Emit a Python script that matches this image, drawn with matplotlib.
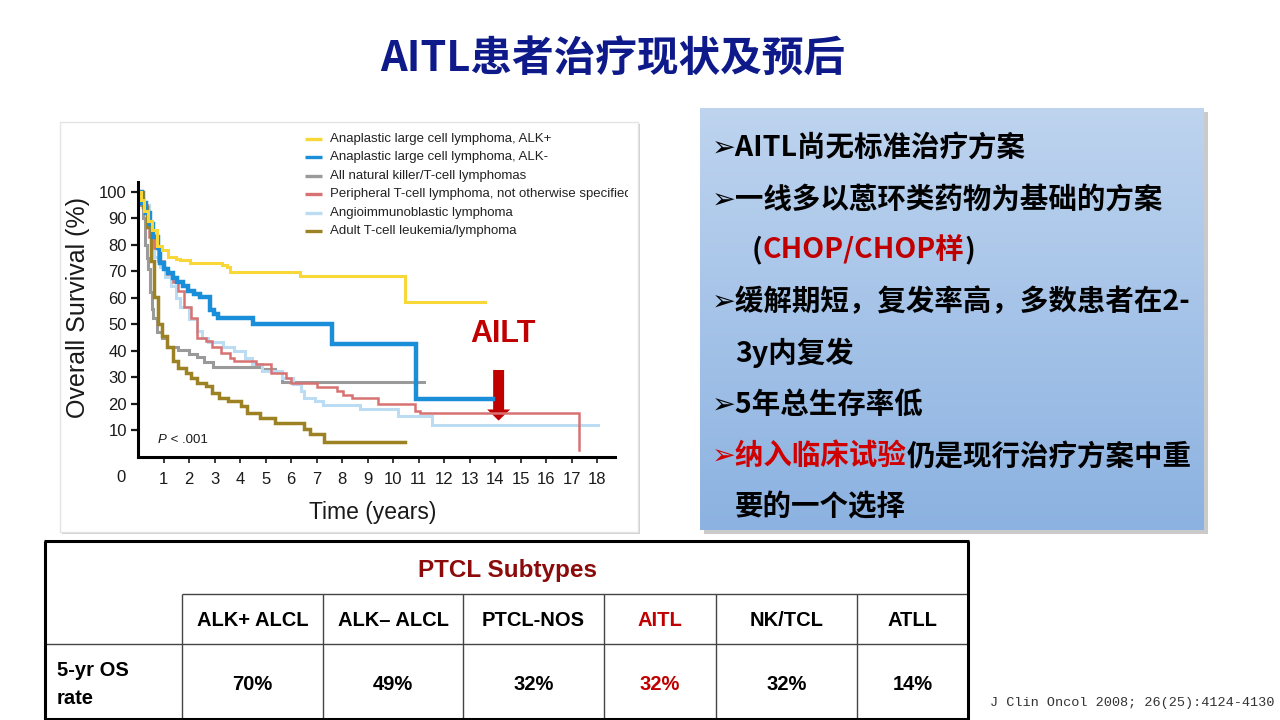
import numpy as np
import matplotlib.pyplot as plt
from matplotlib.patches import Rectangle, FancyArrow
from matplotlib.colors import LinearSegmentedColormap
from matplotlib.transforms import Bbox

plt.rcParams['font.family'] = ['Liberation Sans', 'DejaVu Sans']
cjk = ['Noto Sans CJK SC', 'DejaVu Sans']

# Kaplan-Meier curves: (years, % surviving), step after each time
alk_pos_t = [0, 0.1, 0.25, 0.4, 0.53, 0.73, 0.92, 1.19, 1.5, 1.64, 2.03, 3.3, 3.47, 3.6, 6.35, 10.47, 13.6]
alk_pos_s = [100, 97, 93, 89, 85.6, 79.5, 78, 75.5, 74.7, 74.3, 73.2, 72.6, 71.8, 69.9, 68.2, 58.6, 58.6]

alk_neg_t = [0, 0.15, 0.3, 0.45, 0.6, 0.79, 0.86, 1.0, 1.19, 1.35, 1.51, 1.75, 1.97, 2.2, 2.43, 2.82, 2.96, 3.15, 4.52, 7.6, 10.9, 13.9]
alk_neg_s = [100, 96, 92, 88, 83, 78.7, 73, 71, 69.3, 67.5, 66.1, 64.5, 62.5, 61.5, 60.3, 55.6, 53.9, 52.4, 50.2, 42.8, 22, 22]

nk_t = [0, 0.1, 0.2, 0.27, 0.35, 0.4, 0.47, 0.55, 0.6, 0.73, 0.92, 1.12, 1.58, 2.0, 2.3, 2.6, 2.95, 4.84, 5.35, 5.64, 11.23]
nk_s = [100, 95, 90, 80, 75, 71, 62.3, 56, 52.3, 47.2, 44.7, 41.6, 40.3, 39, 37.8, 36, 34, 33.3, 32.6, 28.2, 28.2]

ptcl_t = [0, 0.2, 0.35, 0.42, 0.64, 0.78, 1.0, 1.15, 1.35, 1.58, 1.8, 2.09, 2.3, 2.67, 2.89, 3.25, 3.61,
          3.76, 4.63, 5.2, 5.79, 6.0, 7.0, 7.82, 8.05, 8.38, 9.42, 10.86, 11.06, 17.3, 17.31]
ptcl_s = [100, 95, 90.5, 83, 79, 74, 71, 69, 66, 62.8, 56.4, 52.6, 45, 43.8, 41.3, 39.4, 37.5,
          36.2, 35, 31.8, 29.9, 28, 26.3, 24.8, 23.4, 22.1, 20, 17.5, 16.4, 2.5, 2.5]

aitl_t = [0, 0.2, 0.42, 0.55, 0.64, 0.86, 1.05, 1.29, 1.5, 1.65, 2.0, 2.3, 2.5, 2.74, 3.32, 3.76, 4.19,
          4.48, 4.84, 5.64, 6.08, 6.37, 6.51, 6.95, 7.24, 8.69, 10.21, 11.52, 18.05]
aitl_s = [100, 95, 88, 84, 75.4, 71.6, 68, 64.6, 60, 56.4, 52, 47.6, 45, 43.2, 41.3, 40, 37.5,
          35, 32.4, 29.9, 27.4, 25, 22.3, 21.1, 19.5, 17.9, 15.4, 12.2, 12.2]

atll_t = [0, 0.2, 0.35, 0.49, 0.64, 0.78, 0.93, 1.15, 1.36, 1.58, 1.87, 2.09, 2.3, 2.67, 2.89, 3.18, 3.54,
          4.05, 4.26, 4.77, 5.35, 6.5, 6.75, 7.31, 10.47]
atll_s = [100, 94.3, 86.7, 74, 60.2, 50.1, 45.7, 41.3, 36.2, 33.7, 31.8, 29.9, 28, 26.8, 24.2, 22.3, 21.1,
          19.2, 16.7, 14.8, 12.9, 10.6, 8.5, 5.8, 5.8]

legend_labels = ["Anaplastic large cell lymphoma, ALK+",
                 "Anaplastic large cell lymphoma, ALK-",
                 "All natural killer/T-cell lymphomas",
                 "Peripheral T-cell lymphoma, not otherwise specified",
                 "Angioimmunoblastic lymphoma",
                 "Adult T-cell leukemia/lymphoma"]
colors = ['#f8d838', '#1a8ed8', '#9a9a9a', '#d87272', '#bcdcf4', '#9c8222']
curves = [(alk_pos_t, alk_pos_s), (alk_neg_t, alk_neg_s), (nk_t, nk_s),
          (ptcl_t, ptcl_s), (aitl_t, aitl_s), (atll_t, atll_s)]
widths = [2.2, 3.2, 2.2, 1.8, 2.2, 2.5]
draw_order = [2, 4, 3, 5, 1, 0]

# table
subtypes = ["ALK+ ALCL", "ALK\u2013 ALCL", "PTCL-NOS", "AITL", "NK/TCL", "ATLL"]
os5 = ["70%", "49%", "32%", "32%", "32%", "14%"]

bullets = [
    [("➢AITL尚无标准治疗方案", 'black')],
    [("➢一线多以蒽环类药物为基础的方案", 'black')],
    [("(", 'black'), ("CHOP/CHOP样", '#c00000'), (")", 'black')],
    [("➢缓解期短，复发率高，多数患者在2-", 'black')],
    [("3y内复发", 'black')],
    [("➢5年总生存率低", 'black')],
    [("➢纳入临床试验", '#d00000'), ("仍是现行治疗方案中重", 'black')],
    [("要的一个选择", 'black')],
]
bullet_x = [712, 712, 752, 712, 735, 712, 712, 735]

fig = plt.figure(figsize=(12.8, 7.2), dpi=100)
fig.patch.set_facecolor('white')

# under layer, pixel coordinates
ax_u = fig.add_axes([0, 0, 1, 1], zorder=0)
ax_u.set_xlim(0, 1280)
ax_u.set_ylim(720, 0)
ax_u.axis('off')
ax_u.add_patch(Rectangle((62, 124), 578, 410, facecolor='#d0d0d0', edgecolor='none'))
ax_u.add_patch(Rectangle((60, 122), 578, 410, facecolor='white', edgecolor='#e4e4e4', lw=1))
ax_u.add_patch(Rectangle((704, 112), 504, 422, facecolor='#a8a8a8', edgecolor='none', alpha=0.6))

# gradient box
ax_g = fig.add_axes([700 / 1280, 1 - 530 / 720, 504 / 1280, 422 / 720], zorder=1)
grad_cmap = LinearSegmentedColormap.from_list('box', ['#bed4ef', '#8cb2e1'])
ax_g.imshow(np.linspace(0, 1, 256).reshape(-1, 1), cmap=grad_cmap, aspect='auto', extent=[0, 1, 0, 1])
ax_g.axis('off')

# survival chart
ax = fig.add_axes([138.1 / 1280, 1 - 456.9 / 720, (614.9 - 138.1) / 1280, (456.9 - 181.9) / 720], zorder=2)
ax.patch.set_alpha(0)
for i in draw_order:
    t, s = curves[i]
    ax.step(t, s, where='post', color=colors[i], lw=widths[i], solid_joinstyle='miter')
ax.set_xlim(0, 18.7)
ax.set_ylim(0, 103.8)
ax.spines['top'].set_visible(False)
ax.spines['right'].set_visible(False)
ax.spines['left'].set_linewidth(2.2)
ax.spines['bottom'].set_linewidth(2.2)
ax.set_xticks(range(1, 19))
ax.set_yticks(range(10, 101, 10))
ax.tick_params(axis='y', direction='out', length=5, width=1.6, pad=3, labelsize=12, colors='#1a1a1a')
ax.tick_params(axis='x', direction='out', length=4, width=1.2, pad=7, labelsize=12, colors='#1a1a1a')
ax.add_patch(FancyArrow(14.14, 32.8, 0, -19.1, width=0.43, head_width=0.9, head_length=4.2,
                        length_includes_head=True, color='#c00000', lw=0))
ax.text(14.31, 46.4, "AILT", color='#c00000', fontsize=22, fontweight='bold', ha='center', va='center')

# top layer, pixel coordinates
ax_t = fig.add_axes([0, 0, 1, 1], zorder=3)
ax_t.set_xlim(0, 1280)
ax_t.set_ylim(720, 0)
ax_t.axis('off')
ax_t.patch.set_alpha(0)
r = fig.canvas.get_renderer()


def seg_line(x, y, parts, **kw):
    for s, c in parts:
        if isinstance(c, tuple):
            c, extra = c
        else:
            extra = {}
        t = ax_t.text(x, y, s, color=c, ha='left', va='baseline', **kw, **extra)
        x = t.get_window_extent(r).x1


ax_t.text(613, 60, "AITL患者治疗现状及预后", family=cjk, fontsize=30, fontweight='bold',
          color='#0f1a8a', ha='center', va='center')

ax_t.text(121, 477, "0", fontsize=12, color='#1a1a1a', ha='center', va='center')
ax_t.text(78, 307, "Overall Survival (%)", fontsize=18, rotation=90, color='#1a1a1a', ha='center', va='center')
ax_t.text(373, 513, "Time (years)", fontsize=16.5, color='#1a1a1a', ha='center', va='center')
seg_line(158, 443, [("P", ('#1a1a1a', {'style': 'italic'})), (" < .001", '#1a1a1a')], fontsize=9.5)

clip = Bbox.from_extents(0, 0, 628, 720)
for i, lab in enumerate(legend_labels):
    y = 139 + 18.4 * i
    ax_t.plot([305, 322], [y, y], color=colors[i], lw=2.4, solid_capstyle='butt')
    tx = ax_t.text(330, y, lab, fontsize=9.5, color='#222222', ha='left', va='center')
    tx.set_clip_box(clip)
    tx.set_clip_on(True)

for i, parts in enumerate(bullets):
    seg_line(bullet_x[i], 156 + 51.4 * i, parts, family=cjk, fontsize=20.5, fontweight='bold')

# table
cols = [45, 182, 323, 463, 604, 716, 857, 968]
ax_t.hlines([594], 182, 968, color='#444444', lw=1)
ax_t.hlines([644], 45, 968, color='#444444', lw=1)
ax_t.vlines(cols[1:-1], 594, 720, color='#444444', lw=1)
ax_t.hlines([541, 719], 44, 969, color='black', lw=2.2)
ax_t.vlines([45, 968], 541, 720, color='black', lw=2.2)
ax_t.text(507, 571, "PTCL Subtypes", fontsize=17.5, fontweight='bold', color='#8b0b0b', ha='center', va='center')
for i in range(6):
    cx = (cols[i + 1] + cols[i + 2]) / 2
    c = '#c00000' if subtypes[i] == "AITL" else 'black'
    ax_t.text(cx, 621, subtypes[i], fontsize=14.5, fontweight='bold', color=c, ha='center', va='center')
    ax_t.text(cx, 685, os5[i], fontsize=14.5, fontweight='bold', color=c, ha='center', va='center')
ax_t.text(57, 670, "5-yr OS", fontsize=14.5, fontweight='bold', ha='left', va='center')
ax_t.text(57, 699, "rate", fontsize=14.5, fontweight='bold', ha='left', va='center')

ax_t.text(990, 703, "J Clin Oncol 2008; 26(25):4124-4130", family=['Liberation Mono', 'DejaVu Sans Mono'],
          fontsize=9.7, color='#333333', ha='left', va='center')

fig.savefig("out.png", dpi=100)
